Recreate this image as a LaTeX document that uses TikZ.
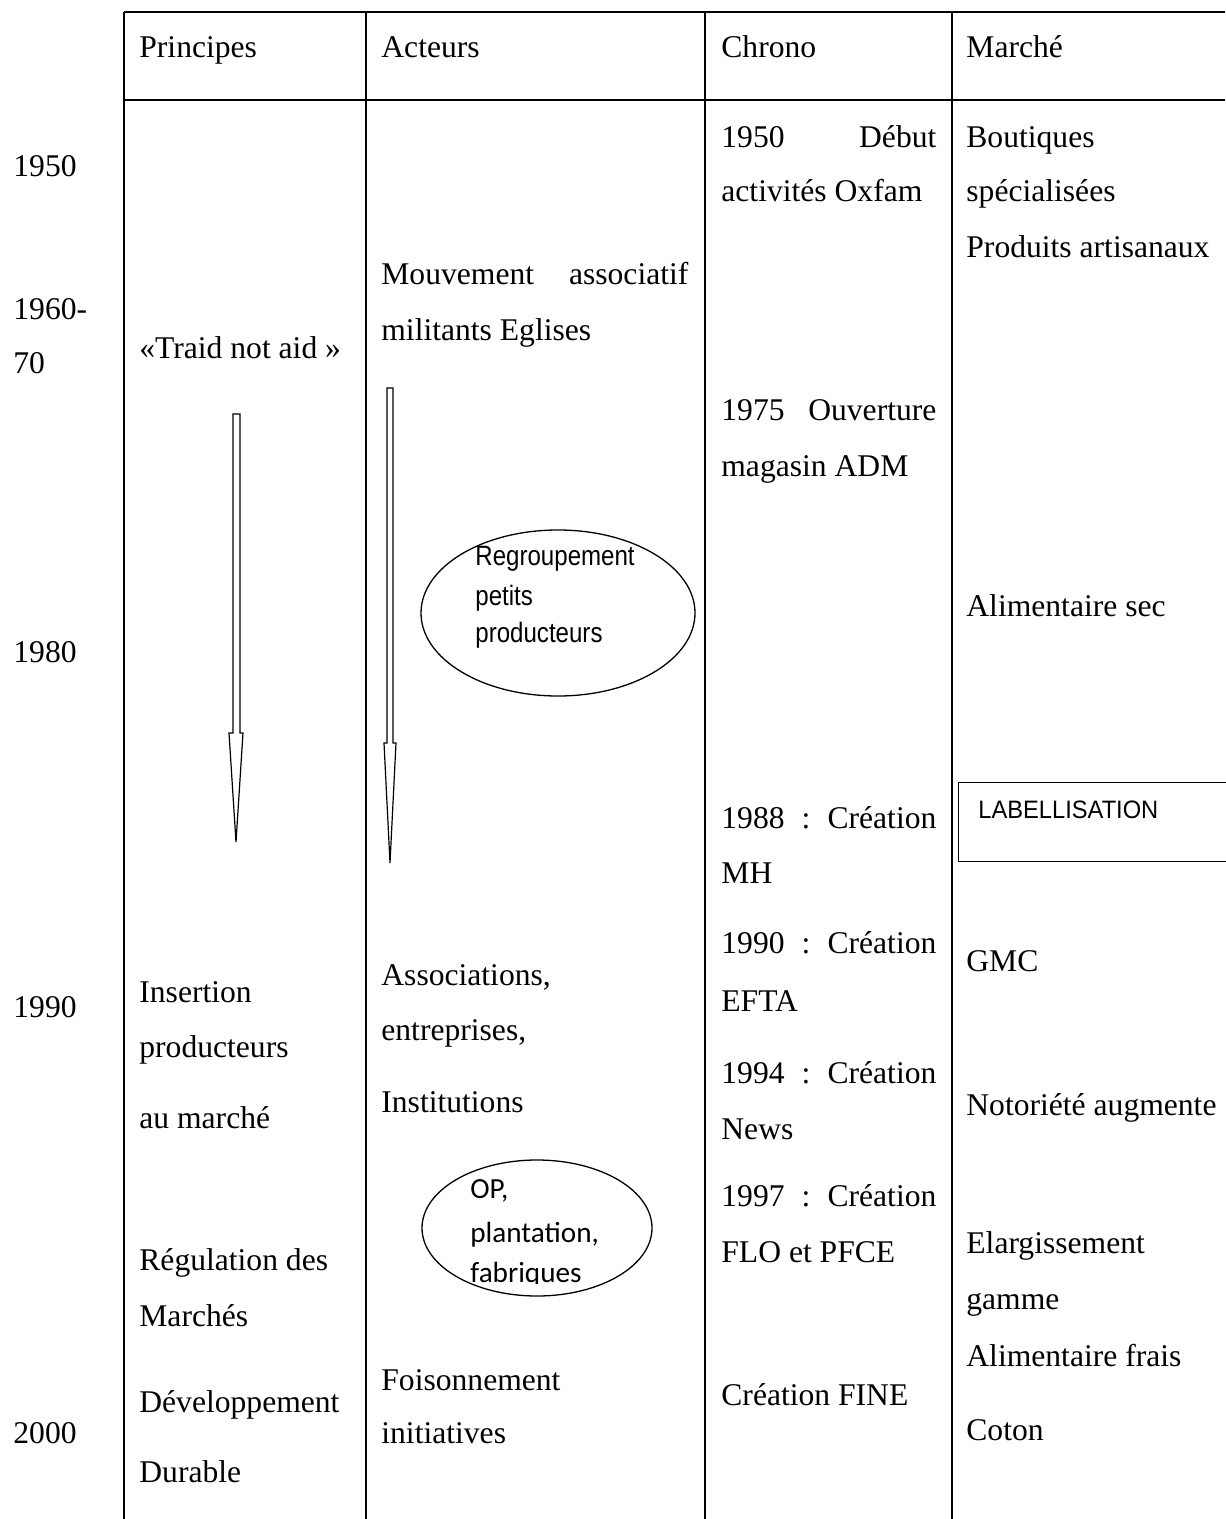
\documentclass[tikz,border=0pt]{standalone}
\usepackage{fontspec}
\setmainfont{Liberation Serif}
\newfontfamily\narrowsans[FakeStretch=0.86]{Liberation Sans}
\newfontfamily\labelsans[FakeStretch=0.94]{Liberation Sans}
\newfontfamily\calibrifont{Carlito}
\usetikzlibrary{shapes.geometric}
\tikzset{
  txt/.style={anchor=base west, inner sep=0pt, font=\fontsize{15.8pt}{19pt}\selectfont},
  elltxt/.style={anchor=base west, inner sep=0pt, font=\narrowsans\fontsize{14pt}{17pt}\selectfont},
  labtxt/.style={anchor=base west, inner sep=0pt, font=\labelsans\fontsize{12.6pt}{15pt}\selectfont},
  caltxt/.style={anchor=base west, inner sep=0pt, font=\calibrifont\fontsize{14.6pt}{18pt}\selectfont},
  tline/.style={line width=1pt},
  blockarrow/.style={draw, line width=0.6pt, fill=white, line join=miter},
  oval/.style={draw, ellipse, line width=0.65pt, inner sep=0pt},
}
\begin{document}
\begin{tikzpicture}[x=0.5pt, y=-0.5pt]
\useasboundingbox (0,0) rectangle (1225,1519);
% table rules
\draw[tline] (124,12) -- (1225,12);
\draw[tline] (124,100) -- (1225,100);
\draw[tline] (124,12) -- (124,1519);
\draw[tline] (366,12) -- (366,1519);
\draw[tline] (705,12) -- (705,1519);
\draw[tline] (952,12) -- (952,1519);
% header
\node[txt] (hP) at (139,58) {Principes};
\node[txt] (hA) at (381,58) {Acteurs};
\node[txt] (hC) at (721,58) {Chrono};
\node[txt] (hM) at (966,58) {Marché};
% years
\node[txt] (y1950) at (13,177) {1950};
\node[txt] (y1960) at (13,320) {1960-};
\node[txt] (y70) at (13,373) {70};
\node[txt] (y1980) at (13,662) {1980};
\node[txt] (y1990) at (13,1017) {1990};
\node[txt] (y2000) at (13,1443) {2000};
% principes
\node[txt] (p1) at (139,358) {«Traid not aid »};
\node[txt] (p2) at (139,1002) {Insertion};
\node[txt] (p3) at (139,1057) {producteurs};
\node[txt] (p4) at (139,1128) {au marché};
\node[txt] (p5) at (139,1270) {Régulation des};
\node[txt] (p6) at (139,1326) {Marchés};
\node[txt] (p7) at (139,1412) {Développement};
\node[txt] (p8) at (139,1482) {Durable};
% acteurs
\node[txt] (a1) at (381,285) {\hbox to 153.5pt{Mouvement\hfil associatif}};
\node[txt] (a2) at (381,341) {militants Eglises};
\node[txt] (a3) at (381,985) {Associations,};
\node[txt] (a4) at (381,1040) {entreprises,};
\node[txt] (a5) at (381,1112) {Institutions};
\node[txt] (a6) at (381,1390) {Foisonnement};
\node[txt] (a7) at (381,1443) {initiatives};
% chrono
\node[txt] (c1) at (721,148) {\hbox to 107.5pt{1950\hfil Début}};
\node[txt] (c2) at (721,202) {activités Oxfam};
\node[txt] (c3) at (721,420) {\hbox to 107.5pt{1975\hfil Ouverture}};
\node[txt] (c4) at (721,476) {magasin ADM};
\node[txt] (c5) at (721,828) {\hbox to 107.5pt{1988\hfil :\hfil Création}};
\node[txt] (c6) at (721,883) {MH};
\node[txt] (c7) at (721,953) {\hbox to 107.5pt{1990\hfil :\hfil Création}};
\node[txt] (c8) at (721,1011) {EFTA};
\node[txt] (c9) at (721,1083) {\hbox to 107.5pt{1994\hfil :\hfil Création}};
\node[txt] (c10) at (721,1139) {News};
\node[txt] (c11) at (721,1206) {\hbox to 107.5pt{1997\hfil :\hfil Création}};
\node[txt] (c12) at (721,1262) {FLO et PFCE};
\node[txt] (c13) at (721,1405) {Création FINE};
% marche
\node[txt] (m1) at (966,148) {Boutiques};
\node[txt] (m2) at (966,202) {spécialisées};
\node[txt] (m3) at (966,258) {Produits artisanaux};
\node[txt] (m4) at (966,616) {Alimentaire sec};
\node[draw, line width=0.6pt, anchor=north west, minimum width=141pt, minimum height=39.5pt, inner sep=0pt] (labbox) at (958,782) {};
\node[labtxt] (labtxt) at (978,818) {LABELLISATION};
\node[txt] (m6) at (966,971) {GMC};
\node[txt] (m7) at (966,1115) {Notoriété augmente};
\node[txt] (m8) at (966,1253) {Elargissement};
\node[txt] (m9) at (966,1309) {gamme};
\node[txt] (m10) at (966,1366) {Alimentaire frais};
\node[txt] (m11) at (966,1440) {Coton};
% arrows
\draw[blockarrow] (233,414) -- (240,414) -- (240,733) -- (243,733) -- (236,842) -- (229,733) -- (233,733) -- cycle;
\draw[blockarrow] (387,388) -- (393,388) -- (393,743) -- (396,743) -- (390,863) -- (384,743) -- (387,743) -- cycle;
% ellipse 1
\node[oval, minimum width=137pt, minimum height=83pt] (e1) at (558,613) {};
\node[elltxt] (e1a) at (475,565) {Regroupement};
\node[elltxt] (e1b) at (475,605) {petits};
\node[elltxt] (e1c) at (475,642) {producteurs};
% ellipse 2
\node[oval, minimum width=115pt, minimum height=68pt] (e2) at (537,1228) {};
\begin{scope}
\clip (440,1160) rectangle (640,1283);
\node[caltxt] (e2a) at (470,1198) {OP,};
\node[caltxt] (e2b) at (470,1242) {plantation,};
\node[caltxt] (e2c) at (470,1282) {fabriques};
\end{scope}
\end{tikzpicture}
\end{document}
